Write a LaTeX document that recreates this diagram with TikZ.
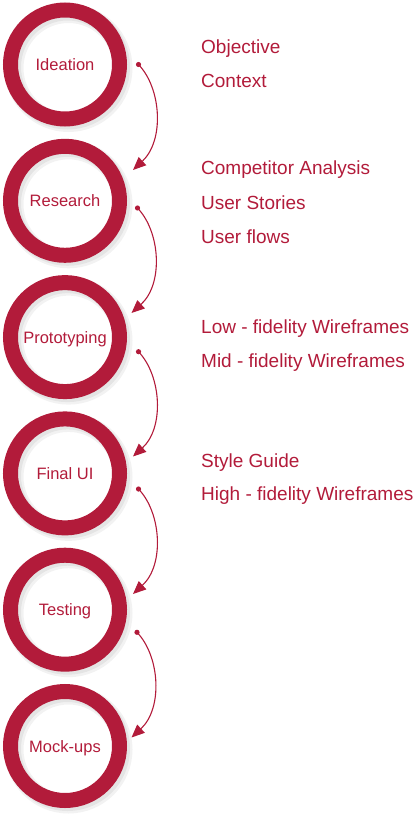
\documentclass[tikz,border=0pt]{standalone}
\usepackage{fontspec}
\setmainfont{Liberation Sans}
\usetikzlibrary{arrows.meta,calc}
\definecolor{crim}{HTML}{B21B3A}
\begin{document}
\begin{tikzpicture}[x=1pt,y=-1pt,
  ring/.style={circle,draw=crim,line width=15pt,minimum size=109pt,inner sep=0pt,
    text=crim,font=\fontsize{16.5}{18}\selectfont,text height=12pt,text depth=0pt},
  item/.style={anchor=base west,inner sep=0pt,text=crim,font=\fontsize{19}{22}\selectfont},
  flow/.style={draw=crim,line width=1.1pt,-{Triangle[length=13pt,width=11pt]}},
  dotpt/.style={fill=crim}]
\useasboundingbox (0,0) rectangle (413,821);
% shadows
\foreach \cy in {64.5,200.8,337.1,473.4,609.7,746} {
  \draw[black,opacity=0.05,line width=19pt] (68.5,\cy+3.5) circle (54.5);
  \draw[black,opacity=0.06,line width=16pt] (67.5,\cy+2.5) circle (54.5);
}
\node[ring] (c1) at (65,64.5) {Ideation};
\node[ring] (c2) at (65,200.8) {Research};
\node[ring] (c3) at (65,337.1) {Prototyping};
\node[ring] (c4) at (65,473.4) {Final UI};
\node[ring] (c5) at (65,609.7) {Testing};
\node[ring] (c6) at (65,746) {Mock-ups};
% connectors
\coordinate (s1) at (138.5,64.5);  \coordinate (e1) at (133,170);
\coordinate (s2) at (137.5,208);   \coordinate (e2) at (131.5,313);
\coordinate (s3) at (138.5,351.7); \coordinate (e3) at (133,456.5);
\coordinate (s4) at (138.5,489);   \coordinate (e4) at (133,594);
\coordinate (s5) at (137,632.3);   \coordinate (e5) at (131.5,737.5);
\foreach \i in {1,...,5} {
  \fill[dotpt] (s\i) circle (2.6);
  \draw[flow] (s\i) .. controls ($(s\i)+(23,24)$) and ($(s\i)+(26,76)$) .. (e\i);
}
% texts
\node[item] (t1) at (201,54) {Objective};
\node[item] (t2) at (201,88) {Context};
\node[item] (t3) at (201,175) {Competitor Analysis};
\node[item] (t4) at (201,209) {User Stories};
\node[item] (t5) at (201,243) {User flows};
\node[item] (t6) at (201,333.5) {Low - fidelity Wireframes};
\node[item] (t7) at (201,367) {Mid - fidelity Wireframes};
\node[item] (t8) at (201,467) {Style Guide};
\node[item] (t9) at (201,500.5) {High - fidelity Wireframes};
\end{tikzpicture}
\end{document}
